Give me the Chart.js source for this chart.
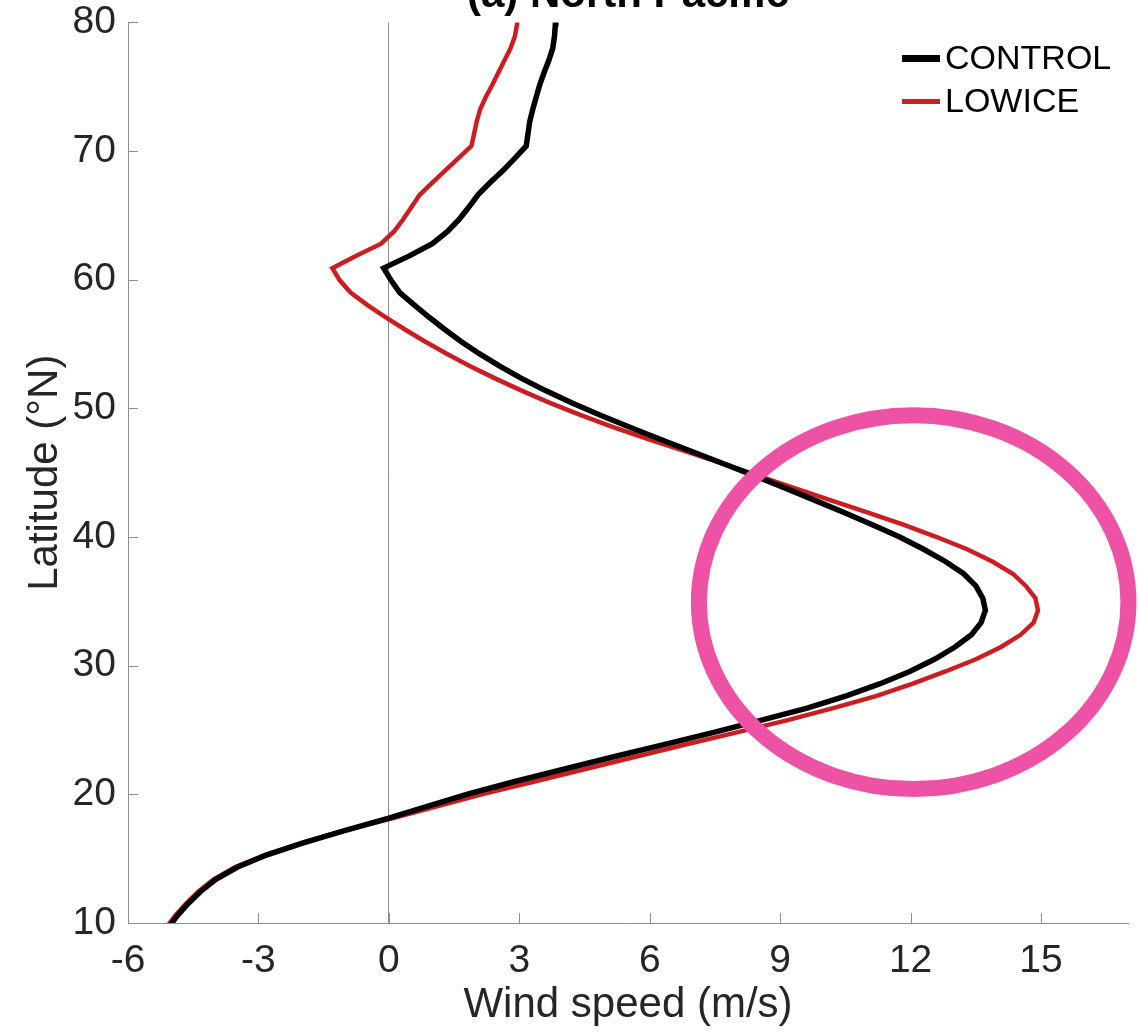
<!DOCTYPE html>
<html>
<head>
<meta charset="utf-8">
<script src="https://cdn.jsdelivr.net/npm/chart.js@4.4.1/dist/chart.umd.min.js"></script>
<style>
  html, body { margin: 0; padding: 0; background: #ffffff; overflow: hidden; }
  #wrap { width: 1139px; height: 1034px; position: relative; }
  canvas { display: block; }
</style>
</head>
<body>
<div id="wrap"><canvas id="chart" width="1139" height="1034"></canvas></div>
<script>
// Zonal-mean wind speed profiles (m/s) against latitude (°N)
const latitude = [
  9.6, 10.55, 11.5, 12.45, 13.4, 14.35, 15.3, 16.25, 17.2, 18.15,
  19.1, 20.05, 21.0, 21.95, 22.9, 23.85, 24.8, 25.75, 26.7, 27.65,
  28.6, 29.55, 30.5, 31.45, 32.4, 33.35, 34.3, 35.25, 36.2, 37.15,
  38.1, 39.05, 40.0, 40.95, 41.9, 42.85, 43.8, 44.75, 45.7, 46.65,
  47.6, 48.55, 49.5, 50.45, 51.4, 52.35, 53.3, 54.25, 55.2, 56.15,
  57.1, 58.05, 59.0, 59.95, 60.9, 61.85, 62.8, 63.75, 64.7, 65.65,
  66.6, 67.55, 68.5, 69.45, 70.4, 71.35, 72.3, 73.25, 74.2, 75.15,
  76.1, 77.05, 78.0, 78.95, 79.9, 80.85
];

const control = [
  -5.08, -4.87, -4.62, -4.33, -3.98, -3.48, -2.80, -1.95, -1.00, 0.00,
  0.92, 1.85, 2.90, 4.02, 5.15, 6.30, 7.45, 8.55, 9.62, 10.52,
  11.30, 11.98, 12.55, 13.02, 13.40, 13.62, 13.72, 13.66, 13.50, 13.22,
  12.80, 12.30, 11.75, 11.12, 10.47, 9.80, 9.12, 8.42, 7.70, 6.97,
  6.24, 5.53, 4.84, 4.19, 3.59, 3.04, 2.54, 2.08, 1.66, 1.28,
  0.92, 0.58, 0.25, 0.05, -0.12, 0.47, 1.00, 1.35, 1.62, 1.84,
  2.05, 2.33, 2.63, 2.90, 3.16, 3.20, 3.24, 3.31, 3.39, 3.47,
  3.57, 3.68, 3.77, 3.81, 3.83, 3.84
];

const lowice = [
  -5.13, -4.92, -4.67, -4.38, -4.03, -3.53, -2.84, -1.98, -1.00, 0.10,
  1.15, 2.20, 3.35, 4.50, 5.65, 6.80, 7.98, 9.15, 10.22, 11.22,
  12.05, 12.80, 13.50, 14.08, 14.53, 14.83, 14.93, 14.87, 14.65, 14.35,
  13.88, 13.30, 12.60, 11.85, 11.02, 10.17, 9.33, 8.50, 7.68, 6.83,
  5.98, 5.16, 4.40, 3.69, 3.04, 2.43, 1.86, 1.33, 0.83, 0.36,
  -0.08, -0.50, -0.88, -1.13, -1.30, -0.76, -0.18, 0.12, 0.33, 0.52,
  0.71, 1.00, 1.30, 1.60, 1.90, 1.96, 2.02, 2.10, 2.23, 2.38,
  2.52, 2.66, 2.80, 2.90, 2.95, 2.97
];

const seriesNames = ['CONTROL', 'LOWICE'];
const xTickValues = [-6, -3, 0, 3, 6, 9, 12, 15];
const yTickValues = [10, 20, 30, 40, 50, 60, 70, 80];

// Jet-core highlight ring, in data units (wind speed, latitude)
const highlight = { x: 12.07, y: 34.94, rx: 4.94, ry: 14.53 };

const FONT = '"Liberation Sans", Arial, Helvetica, sans-serif';
const TEXT = '#262626';
const AXIS_GREY = '#8e8e8e';
const RING = '#ED52A5';

function toPoints(values) {
  return values.map((v, i) => ({ x: v, y: latitude[i] }));
}

// Short tick marks pointing into the plot area
const innerTicks = {
  id: 'innerTicks',
  beforeDatasetsDraw(chart) {
    const { ctx, chartArea: a, scales: { x, y } } = chart;
    ctx.save();
    ctx.strokeStyle = AXIS_GREY;
    ctx.lineWidth = 1;
    ctx.beginPath();
    xTickValues.forEach(v => {
      const px = Math.round(x.getPixelForValue(v)) + 0.5;
      ctx.moveTo(px, a.bottom);
      ctx.lineTo(px, a.bottom - 10);
    });
    yTickValues.forEach(v => {
      const py = Math.round(y.getPixelForValue(v)) + 0.5;
      ctx.moveTo(a.left, py);
      ctx.lineTo(a.left + 10, py);
    });
    ctx.stroke();
    ctx.restore();
  }
};

// Ellipse around the jet maximum
const ring = {
  id: 'ring',
  afterDatasetsDraw(chart) {
    const { ctx, scales: { x, y } } = chart;
    const cx = x.getPixelForValue(highlight.x);
    const cy = y.getPixelForValue(highlight.y);
    const rx = Math.abs(x.getPixelForValue(highlight.x + highlight.rx) - cx);
    const ry = Math.abs(y.getPixelForValue(highlight.y + highlight.ry) - cy);
    ctx.save();
    ctx.strokeStyle = RING;
    ctx.lineWidth = 16;
    ctx.beginPath();
    ctx.ellipse(cx, cy, rx, ry, 0, 0, Math.PI * 2);
    ctx.stroke();
    ctx.restore();
  }
};

// Legend in the upper-right corner of the plot
const legendLineWidths = [7, 5];
const cornerLegend = {
  id: 'cornerLegend',
  afterDraw(chart) {
    const { ctx, chartArea: a } = chart;
    const x0 = a.right - 226, x1 = a.right - 188, tx = a.right - 183;
    ctx.save();
    ctx.font = '34px ' + FONT;
    ctx.textBaseline = 'middle';
    ctx.textAlign = 'left';
    chart.data.datasets.forEach((ds, i) => {
      const yy = a.top + 36 + i * 43;
      ctx.strokeStyle = ds.borderColor;
      ctx.lineWidth = legendLineWidths[i];
      ctx.beginPath();
      ctx.moveTo(x0, yy);
      ctx.lineTo(x1, yy);
      ctx.stroke();
      ctx.fillStyle = '#000000';
      ctx.fillText(ds.label, tx, yy + 1);
    });
    ctx.restore();
  }
};

new Chart(document.getElementById('chart'), {
  type: 'scatter',
  data: {
    datasets: [
      {
        label: seriesNames[0],
        data: toPoints(control),
        showLine: true,
        borderColor: '#000000',
        backgroundColor: '#000000',
        borderWidth: 5.5,
        pointRadius: 0,
        tension: 0,
        clip: 0
      },
      {
        label: seriesNames[1],
        data: toPoints(lowice),
        showLine: true,
        borderColor: '#CC1D22',
        backgroundColor: '#CC1D22',
        borderWidth: 4.5,
        pointRadius: 0,
        tension: 0,
        clip: 0
      }
    ]
  },
  options: {
    responsive: false,
    animation: false,
    devicePixelRatio: 1,
    events: [],
    layout: { padding: { left: 0, right: 11, top: 0, bottom: 0 } },
    plugins: {
      legend: { display: false },
      tooltip: { enabled: false },
      title: {
        display: true,
        fullSize: false,
        text: '(a) North Pacific',
        color: '#000000',
        font: { family: FONT, size: 42, weight: 'bold', lineHeight: 1.2 },
        padding: { top: -30, bottom: 2 }
      }
    },
    scales: {
      x: {
        type: 'linear',
        min: -6,
        max: 17,
        afterBuildTicks: s => { s.ticks = xTickValues.map(v => ({ value: v })); },
        afterFit: s => { s.height = 111; },
        ticks: {
          color: TEXT,
          font: { family: FONT, size: 39 },
          padding: 15,
          maxRotation: 0,
          autoSkip: false
        },
        grid: {
          drawTicks: false,
          lineWidth: 1,
          color: c => (c.tick && c.tick.value === 0) ? AXIS_GREY : 'rgba(0,0,0,0)'
        },
        border: { display: true, color: AXIS_GREY, width: 1 },
        title: {
          display: true,
          text: 'Wind speed (m/s)',
          color: TEXT,
          font: { family: FONT, size: 42, lineHeight: 1.2 },
          padding: { top: 0, bottom: 3 }
        }
      },
      y: {
        type: 'linear',
        min: 10,
        max: 80,
        afterBuildTicks: s => { s.ticks = yTickValues.map(v => ({ value: v })); },
        afterFit: s => { s.width = 128; },
        ticks: {
          color: TEXT,
          font: { family: FONT, size: 39, lineHeight: 0.5 },
          padding: 12,
          autoSkip: false
        },
        grid: { display: false, drawTicks: false },
        border: { display: true, color: AXIS_GREY, width: 1 },
        title: {
          display: true,
          text: 'Latitude (°N)',
          color: TEXT,
          font: { family: FONT, size: 42, lineHeight: 1.2 },
          padding: { top: 20, bottom: 0 }
        }
      }
    }
  },
  plugins: [innerTicks, ring, cornerLegend]
});
</script>
</body>
</html>
